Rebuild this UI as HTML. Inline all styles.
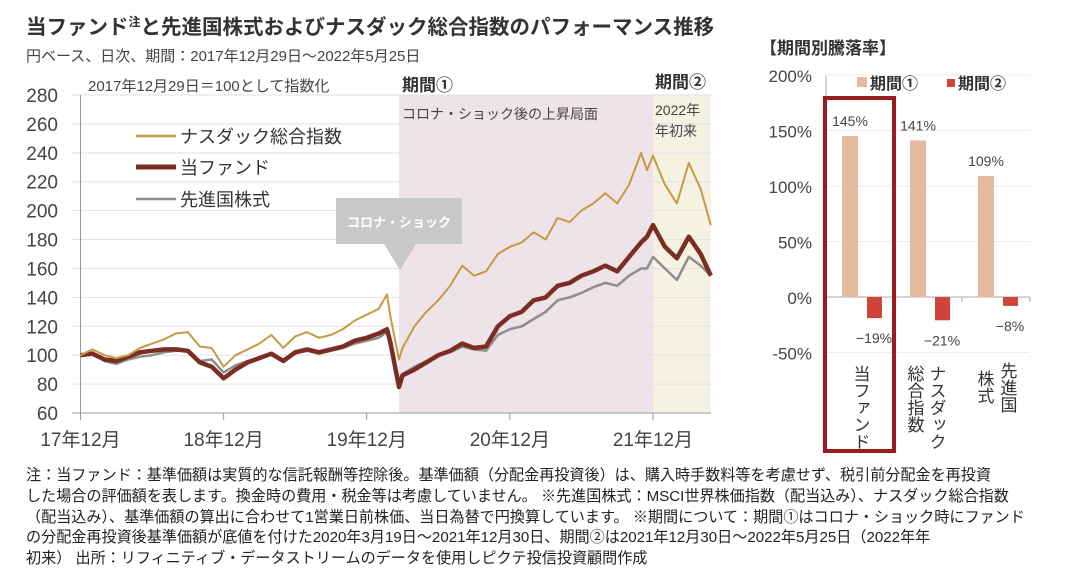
<!DOCTYPE html>
<html><head><meta charset="utf-8">
<style>
body{margin:0;background:#fff;width:1079px;height:569px;overflow:hidden;font-family:"Liberation Sans","Noto Sans CJK JP",sans-serif;position:relative}
.t{position:absolute;white-space:nowrap;color:#333}
svg{position:absolute;left:0;top:0}
</style></head><body>
<div class="t" style="left:26px;top:10px;font-size:20.5px;font-weight:bold;color:#333">当ファンド<sup style="font-size:12px">注</sup>と先進国株式およびナスダック総合指数のパフォーマンス推移</div>
<div class="t" style="left:26px;top:45px;font-size:15px;color:#444">円ベース、日次、期間：2017年12月29日～2022年5月25日</div>
<div class="t" style="left:760px;top:34px;font-size:17px;font-weight:bold;color:#333">【期間別騰落率】</div>
<div class="t" style="left:26px;top:466px;font-size:15.1px;line-height:20.8px;color:#222">注：当ファンド：基準価額は実質的な信託報酬等控除後。基準価額（分配金再投資後）は、購入時手数料等を考慮せず、税引前分配金を再投資<br>した場合の評価額を表します。換金時の費用・税金等は考慮していません。 ※先進国株式：MSCI世界株価指数（配当込み）、ナスダック総合指数<br>（配当込み）、基準価額の算出に合わせて1営業日前株価、当日為替で円換算しています。 ※期間について：期間①はコロナ・ショック時にファンド<br>の分配金再投資後基準価額が底値を付けた2020年3月19日～2021年12月30日、期間②は2021年12月30日～2022年5月25日（2022年年<br>初来） 出所：リフィニティブ・データストリームのデータを使用しピクテ投信投資顧問作成</div>
<svg id="line" width="1079" height="569"></svg>
<svg id="bar" width="1079" height="569"></svg>
<script>
const months=[0,1,2,3,4,5,6,7,8,9,10,11,12,13,14,15,16,17,18,19,20,21,22,23,24,25,25.7,26,26.7,27,28,29,30,31,32,33,34,35,36,37,38,39,40,41,42,43,44,45,46,47,47.5,48,49,50,51,52,52.85];
const nasdaq=[100,104,100,98,100,105,108,111,115,116,106,105,92,100,104,108,114,105,113,116,112,114,118,124,128,132,142,126,97,105,120,130,138,148,162,155,158,170,175,178,185,180,195,192,200,205,212,205,218,240,228,238,218,205,233,215,190];
const fund=[100,101,97,96,99,102,103,104,104,103,95,92,84,90,95,98,101,96,102,104,102,104,106,110,112,115,118,108,78,86,90,95,100,103,108,105,106,120,127,130,138,140,148,150,155,158,162,158,168,178,182,190,175,167,182,170,155];
const world=[100,102,96,94,97,99,100,102,103,103,96,97,88,93,96,98,101,97,101,103,101,103,105,108,110,112,116,106,80,87,92,96,100,102,106,104,103,114,118,120,125,130,138,140,143,147,150,148,155,160,160,168,160,152,168,162,155];
const yTicks=[60,80,100,120,140,160,180,200,220,240,260,280];
const xTickMonths=[0,12,24,36,48];
const xTickLabels=["17年12月","18年12月","19年12月","20年12月","21年12月"];
const period1=[26.7,48], period2=[48,52.85];
const barCats=["当ファンド","ナスダック総合指数","先進国株式"];
const p1Vals=[145,141,109];
const p2Vals=[-19,-21,-8];
const barTicks=[-50,0,50,100,150,200];

const NS="http://www.w3.org/2000/svg";
function mk(svg,tag,attrs,txt){const e=document.createElementNS(NS,tag);for(const k in attrs)e.setAttribute(k,attrs[k]);if(txt!==undefined)e.textContent=txt;svg.appendChild(e);return e;}
const L=document.getElementById('line');
const X=m=>80.5+m*(653-80.5)/48;
const Y=v=>413-(v-60)*(413-95)/220;
let r=mk(L,'rect',{x:X(period1[0]),y:95,width:X(period1[1])-X(period1[0]),height:318,fill:'#efe3ea'});

r=mk(L,'rect',{x:X(period2[0]),y:95,width:X(period2[1])-X(period2[0]),height:318,fill:'#f6f2e2'});

yTicks.forEach(v=>{
  if(v>60){let g=mk(L,'line',{x1:72,x2:711,y1:Y(v),y2:Y(v),stroke:'#e2e2e2','stroke-width':1});
  }
  let t=mk(L,'text',{x:58,y:Y(v)+7,'text-anchor':'end','font-size':19,fill:'#444'},v);
  
});
mk(L,'line',{x1:80.5,x2:80.5,y1:95,y2:413,stroke:'#999'});
mk(L,'line',{x1:72,x2:711,y1:413,y2:413,stroke:'#999'});
xTickMonths.forEach((m,i)=>{
  mk(L,'line',{x1:X(m),x2:X(m),y1:413,y2:420,stroke:'#999'});
  let t=mk(L,'text',{x:X(m),y:446,'text-anchor':'middle','font-size':19,fill:'#444'},xTickLabels[i]);
  
});
function series(vals,color,w,name){
  const d=vals.map((v,i)=>(i?'L':'M')+X(months[i]).toFixed(1)+','+Y(v).toFixed(1)).join('');
  const p=mk(L,'path',{d:d,fill:'none',stroke:color,'stroke-width':w,'stroke-linejoin':'round'});
  
}
series(world,'#8e8e8e',2.5,'world-stocks-line');
series(fund,'#7a2d22',4.5,'fund-line');
series(nasdaq,'#c59a45',2,'nasdaq-line');
[['#c59a45',2.5,'ナスダック総合指数',136],['#7a2d22',5,'当ファンド',167],['#8e8e8e',2.5,'先進国株式',199]].forEach(([c,w,txt,y])=>{
  mk(L,'line',{x1:136,x2:176,y1:y,y2:y,stroke:c,'stroke-width':w});
  let t=mk(L,'text',{x:180,y:y+7,'font-size':18,fill:'#333'},txt);
  
});
let lt=mk(L,'text',{x:88,y:91,'font-size':15,fill:'#444'},'2017年12月29日＝100として指数化');

lt=mk(L,'text',{x:402,y:91,'font-size':17,'font-weight':'bold',fill:'#333'},'期間①');

lt=mk(L,'text',{x:402,y:119,'font-size':14,fill:'#444'},'コロナ・ショック後の上昇局面');

lt=mk(L,'text',{x:655,y:88,'font-size':17,'font-weight':'bold',fill:'#333'},'期間②');

lt=mk(L,'text',{x:655,y:115,'font-size':14,fill:'#444'},'2022年');

mk(L,'text',{x:655,y:136,'font-size':14,fill:'#444'},'年初来');
let cb=mk(L,'rect',{x:336,y:198,width:126,height:46,fill:'#c8c8c8'});

mk(L,'polygon',{points:'384,244 416,244 400,270',fill:'#c8c8c8'});
mk(L,'text',{x:399,y:227,'text-anchor':'middle','font-size':13,'font-weight':'bold',fill:'#fff'},'コロナ・ショック');

const B=document.getElementById('bar');
const BY=v=>297-v*1.11;
const cx0=826,cw=68;
barTicks.forEach(v=>{
  if(v!==0){let g=mk(B,'line',{x1:826,x2:1030,y1:BY(v),y2:BY(v),stroke:'#ececec'});}
  let t=mk(B,'text',{x:812,y:BY(v)+7,'text-anchor':'end','font-size':17,fill:'#444'},v+'%');
  
});
mk(B,'line',{x1:826,x2:826,y1:75,y2:BY(-50),stroke:'#aaa'});
mk(B,'line',{x1:826,x2:1030,y1:BY(0),y2:BY(0),stroke:'#aaa'});
barCats.forEach((c,i)=>{
  const x=cx0+i*cw;
  mk(B,'line',{x1:x+cw,x2:x+cw,y1:BY(0),y2:BY(0)+5,stroke:'#aaa'});
  let b=mk(B,'rect',{x:x+16,y:BY(p1Vals[i]),width:16,height:BY(0)-BY(p1Vals[i]),fill:'#e6baa1'});
  
  b=mk(B,'rect',{x:x+41,y:BY(0),width:15,height:BY(p2Vals[i])-BY(0),fill:'#d0453a'});
  
  let t=mk(B,'text',{x:x+24,y:BY(p1Vals[i])-10,'text-anchor':'middle','font-size':14,fill:'#444'},p1Vals[i]+'%');
  
  t=mk(B,'text',{x:x+48,y:BY(p2Vals[i])+25,'text-anchor':'middle','font-size':14,fill:'#444'},'−'+Math.abs(p2Vals[i])+'%');
  
});
function vlabel(x,y,s){const t=mk(B,'text',{x:x,y:y,'font-size':17,fill:'#333','writing-mode':'tb','glyph-orientation-vertical':0},s);}
vlabel(860,365,'当ファンド');
vlabel(936,365,'ナスダック');vlabel(914,365,'総合指数');
vlabel(1007,362,'先進国');vlabel(984,370,'株式');
mk(B,'rect',{x:857,y:77,width:10,height:10,fill:'#e6baa1'});
let lg=mk(B,'text',{x:870,y:89,'font-size':16,'font-weight':'bold',fill:'#333'},'期間①');

mk(B,'rect',{x:947,y:79,width:8,height:8,fill:'#d0453a'});
lg=mk(B,'text',{x:958,y:89,'font-size':16,'font-weight':'bold',fill:'#333'},'期間②');

let hb=mk(B,'rect',{x:825,y:98,width:69,height:353,fill:'none',stroke:'#9b1c1f','stroke-width':4});

</script>
</body></html>
